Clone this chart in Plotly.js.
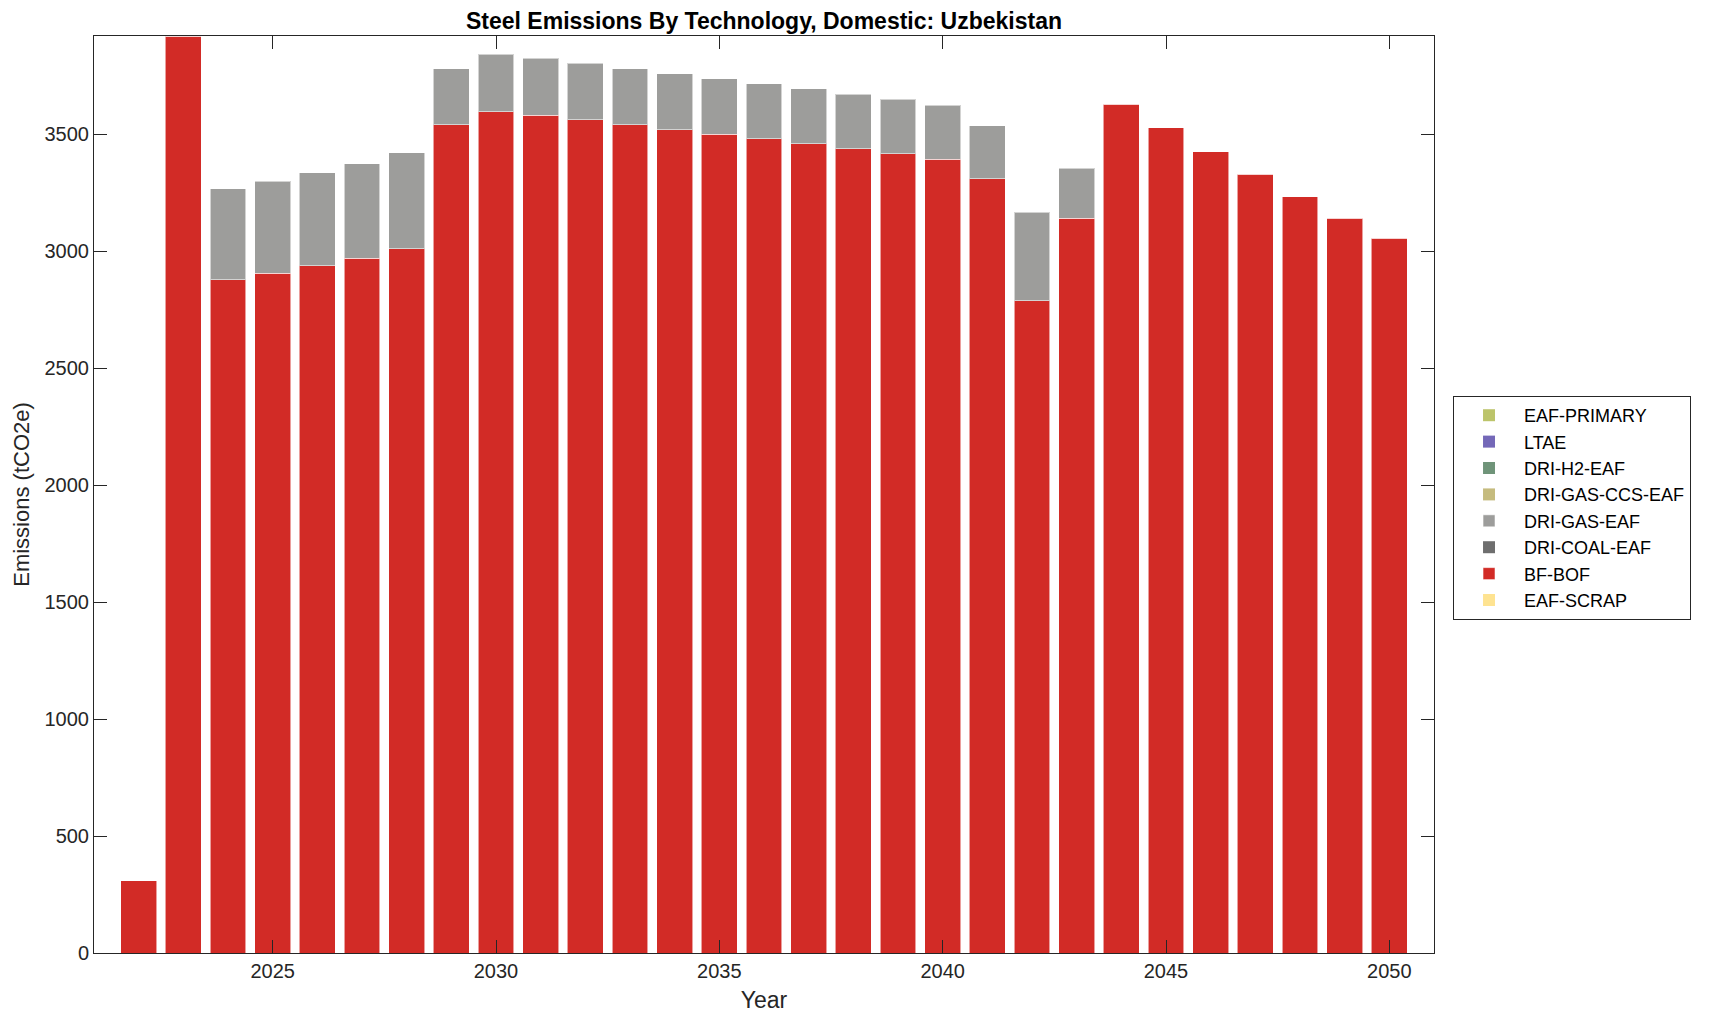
<!DOCTYPE html>
<html>
<head>
<meta charset="utf-8">
<script src="https://cdn.plot.ly/plotly-3.0.1.min.js"></script>
<style>html,body{margin:0;padding:0;background:#fff;}#chart{width:1714px;height:1021px;}</style>
</head>
<body>
<div id="chart"></div>
<script>
const years = [2022,2023,2024,2025,2026,2027,2028,2029,2030,2031,2032,2033,2034,2035,2036,2037,2038,2039,2040,2041,2042,2043,2044,2045,2046,2047,2048,2049,2050];
const bfBof = [308,3920,2877,2906,2937,2971,3011,3540,3597,3581,3561,3540,3520,3500,3480,3459,3437,3416,3393,3310,2789,3142,3628,3527,3426,3329,3233,3142,3056];
const driGasEaf = [0,0,391,393,399,403,409,241,245,244,243,241,239,238,235,235,234,234,231,226,378,213,0,0,0,0,0,0,0];
const eafScrap = new Array(years.length).fill(0);
const driCoalEaf = new Array(years.length).fill(0);
const driGasCcsEaf = new Array(years.length).fill(0);
const driH2Eaf = new Array(years.length).fill(0);
const ltae = new Array(years.length).fill(0);
const eafPrimary = new Array(years.length).fill(0);

const seriesNames = ['EAF-SCRAP','BF-BOF','DRI-COAL-EAF','DRI-GAS-EAF','DRI-GAS-CCS-EAF','DRI-H2-EAF','LTAE','EAF-PRIMARY'];
const seriesValues = [eafScrap,bfBof,driCoalEaf,driGasEaf,driGasCcsEaf,driH2Eaf,ltae,eafPrimary];
const seriesColors = ['#fee391','#d22b26','#6e6e6e','#9d9d9b','#c5bb7e','#6f9479','#7468b8','#bcc46a'];

const traces = seriesNames.map((n,i)=>{
  const hasData = seriesValues[i].some(v=>v!==0);
  return {
    type:'bar', name:n, x:years, y:seriesValues[i], width:0.8,
    marker:{color:seriesColors[i], line:{color:'rgba(255,255,255,0.55)', width: hasData?1:0}}
  };
});

const FAM = 'Liberation Sans, Arial, sans-serif';
const axisFont = {family:FAM, size:20, color:'#262626'};
const layout = {
  width:1714, height:1021,
  margin:{l:94, r:280, t:36, b:68},
  barmode:'stack', bargap:0.2,
  paper_bgcolor:'#fff', plot_bgcolor:'#fff',
  font:axisFont,
  title:{text:'<b>Steel Emissions By Technology, Domestic: Uzbekistan</b>', font:{family:FAM, size:23, color:'#000'}, x:0.5, xref:'paper', xanchor:'center', y:0.979, yanchor:'middle'},
  xaxis:{range:[2021,2051], tickvals:[2025,2030,2035,2040,2045,2050], ticks:'inside', ticklen:13, tickcolor:'#262626', showline:true, linecolor:'#262626', linewidth:1, mirror:'ticks', showgrid:false, zeroline:false, tickfont:axisFont,
    title:{text:'Year', font:{family:FAM, size:23, color:'#262626'}, standoff:10}},
  yaxis:{range:[0,3920], tickvals:[0,500,1000,1500,2000,2500,3000,3500], ticks:'inside', ticklen:13, tickcolor:'#262626', showline:true, linecolor:'#262626', linewidth:1, mirror:'ticks', showgrid:false, zeroline:false, tickfont:axisFont,
    title:{text:'Emissions (tCO2e)', font:{family:FAM, size:22, color:'#262626'}, standoff:8}},
  legend:{x:1.0142, y:0.6074, xanchor:'left', yanchor:'top', traceorder:'reversed', bordercolor:'#262626', borderwidth:1, bgcolor:'#fff', itemwidth:60, font:{family:FAM, size:18, color:'#000'}},
  showlegend:true
};
Plotly.newPlot('chart', traces, layout, {displayModeBar:false, staticPlot:true});
</script>
</body>
</html>
